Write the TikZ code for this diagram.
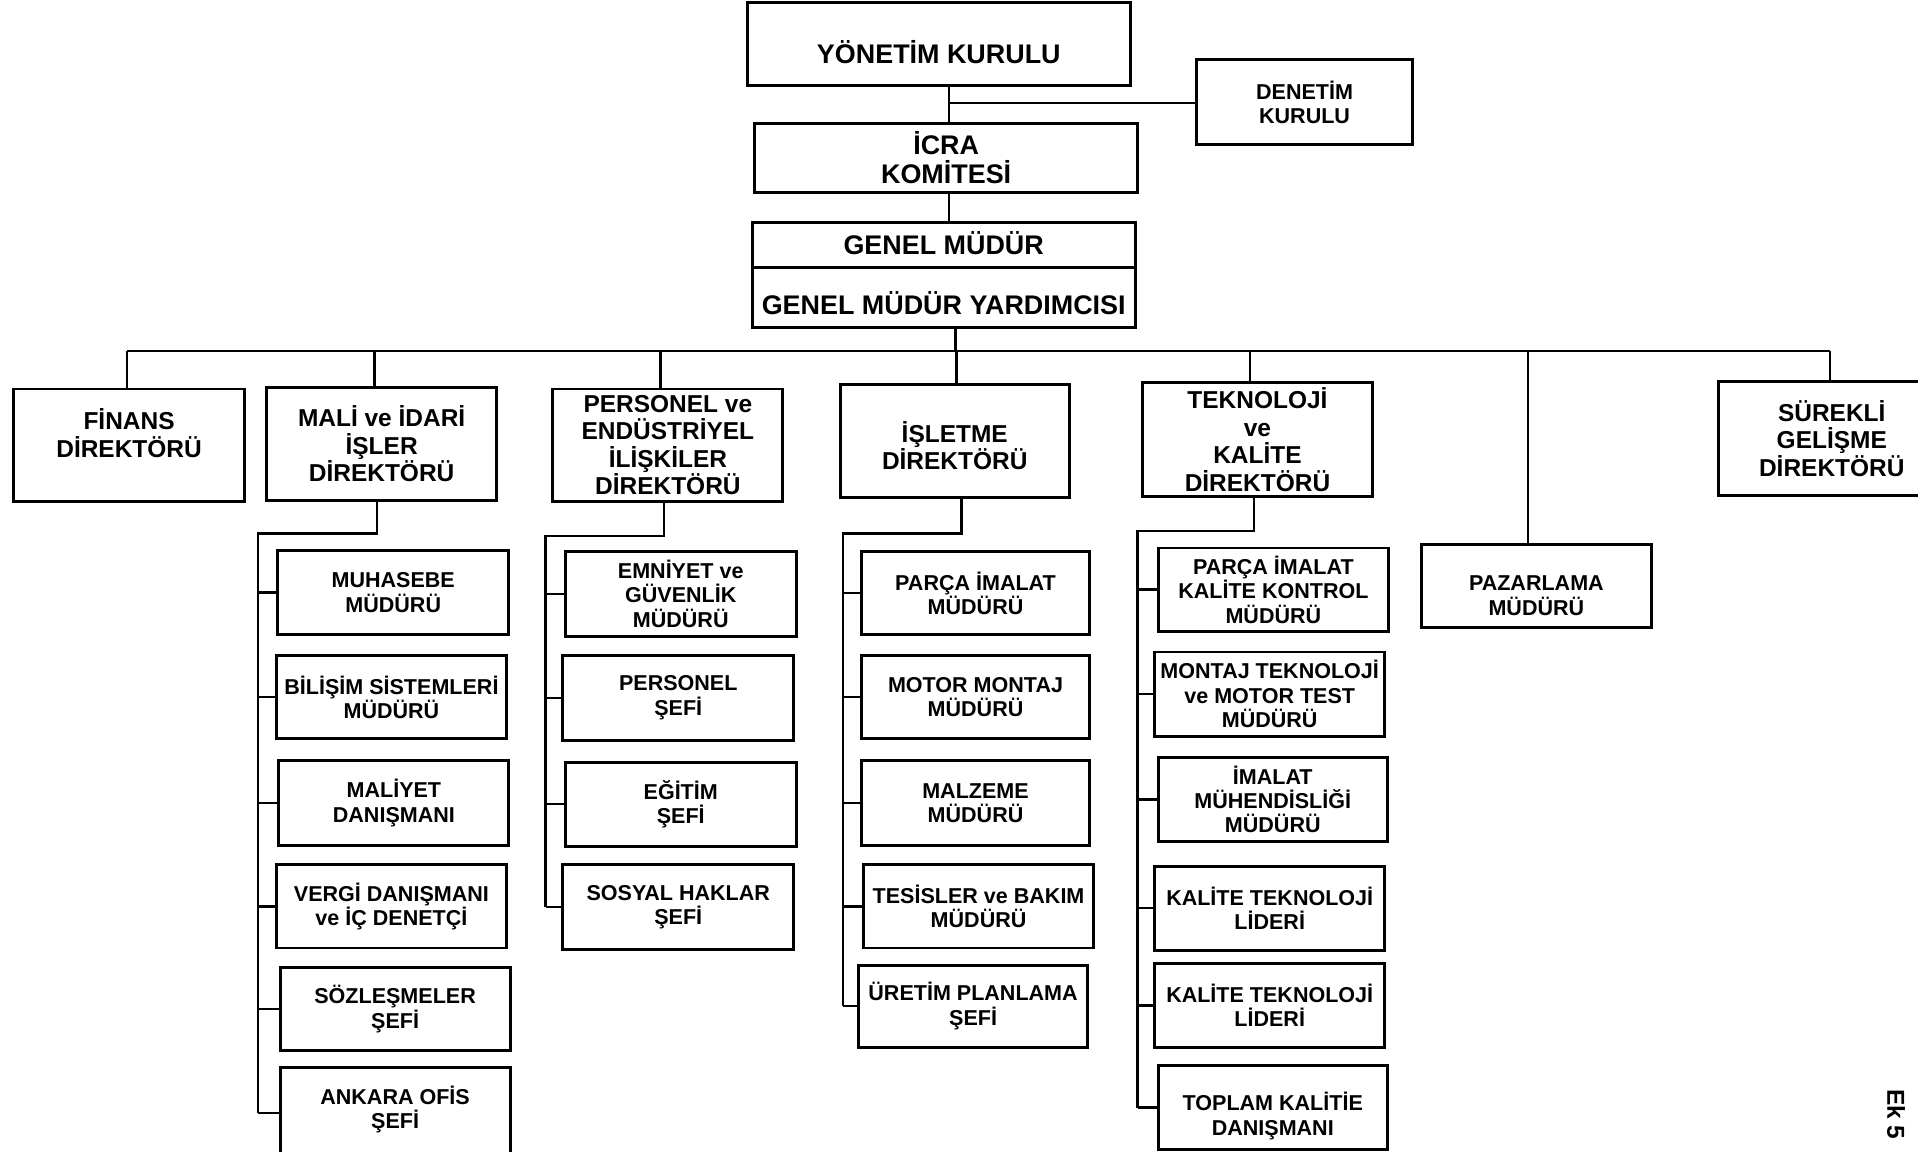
\documentclass[tikz,border=0pt]{standalone}
\usepackage{fontspec}
\setmainfont{Liberation Sans}
\usetikzlibrary{calc}

% type sizes for the three levels of the chart
\newcommand{\fTop}{\fontsize{11}{12}\selectfont\bfseries}
\newcommand{\fDir}{\fontsize{10}{11.25}\selectfont\bfseries}
\newcommand{\fSub}{\fontsize{8.8}{10}\selectfont\bfseries}

% \orgbox[text shift]{name}{x1}{y1}{x2}{y2}{text}
\newcommand{\orgbox}[7][0]{%
  \node[orgframe, minimum width={(#5-#3)*0.5pt}, minimum height={(#6-#4)*0.5pt}]
    (#2) at ({(#3+#5)/2},{(#4+#6)/2}) {};
  \node[orgtext] (#2-t) at ([yshift={-(#1)*0.5pt}]#2.center) {#7};
}

\tikzset{
  orgframe/.style={draw=black, line width=1.2pt, inner sep=0pt, outer sep=0pt, fill=white},
  orgtext/.style={align=center, inner sep=0pt},
  wire/.style={draw=black, line width=1pt},
}

\begin{document}
\begin{tikzpicture}[x=0.5pt,y=-0.5pt]
\fill[white] (0,0) rectangle (1568,941);
\useasboundingbox (0,0) rectangle (1568,941);

% ---- top management ----
\begin{scope}[orgtext/.append style={font=\fTop}]
\orgbox[7]{yk}{611}{2}{924}{70}{YÖNETİM KURULU}
\orgbox{icra}{617}{101}{930}{157}{İCRA\\KOMİTESİ}
\orgbox[-2]{gm}{615}{182}{928}{219}{GENEL MÜDÜR}
\orgbox[4]{gmy}{615}{219}{928}{268}{GENEL MÜDÜR YARDIMCISI}
\end{scope}

\begin{scope}[orgtext/.append style={font=\fSub}]
\orgbox{denetim}{978}{49}{1155}{118}{DENETİM\\KURULU}
\end{scope}

% ---- directors ----
\begin{scope}[orgtext/.append style={font=\fDir}]
\orgbox[-10]{finans}{11}{318}{200}{410}{FİNANS\\DİREKTÖRÜ}
\orgbox{mali}{218}{317}{406}{409}{MALİ ve İDARİ\\İŞLER\\DİREKTÖRÜ}
\orgbox{pers}{452}{318}{640}{410}{PERSONEL ve\\ENDÜSTRİYEL\\İLİŞKİLER\\DİREKTÖRÜ}
\orgbox[4]{islet}{687}{314}{874}{407}{İŞLETME\\DİREKTÖRÜ}
\orgbox{tek}{934}{313}{1122}{406}{TEKNOLOJİ\\ve\\KALİTE\\DİREKTÖRÜ}
\orgbox{surekli}{1405}{312}{1590}{405}{SÜREKLİ\\GELİŞME\\DİREKTÖRÜ}
\end{scope}

% ---- managers and chiefs ----
\begin{scope}[orgtext/.append style={font=\fSub}]
\orgbox[8]{pazar}{1162}{445}{1350}{513}{PAZARLAMA\\MÜDÜRÜ}

\orgbox{muh}{227}{450}{416}{519}{MUHASEBE\\MÜDÜRÜ}
\orgbox{bil}{226}{536}{414}{604}{BİLİŞİM SİSTEMLERİ\\MÜDÜRÜ}
\orgbox{maly}{228}{622}{416}{691}{MALİYET\\DANIŞMANI}
\orgbox{vergi}{226}{707}{414}{775}{VERGİ DANIŞMANI\\ve İÇ DENETÇİ}
\orgbox{soz}{229}{791}{417}{859}{SÖZLEŞMELER\\ŞEFİ}
\orgbox[-3]{ank}{229}{873}{417}{947}{ANKARA OFİS\\ŞEFİ}

\orgbox{emn}{462}{451}{651}{520}{EMNİYET ve\\GÜVENLİK\\MÜDÜRÜ}
\orgbox{persf}{460}{536}{649}{605}{PERSONEL\\ŞEFİ}
\orgbox{egt}{462}{623}{651}{692}{EĞİTİM\\ŞEFİ}
\orgbox{sos}{460}{707}{649}{776}{SOSYAL HAKLAR\\ŞEFİ}

\orgbox{parca}{704}{451}{891}{519}{PARÇA İMALAT\\MÜDÜRÜ}
\orgbox{motor}{704}{536}{891}{604}{MOTOR MONTAJ\\MÜDÜRÜ}
\orgbox{malz}{704}{622}{891}{691}{MALZEME\\MÜDÜRÜ}
\orgbox{tesis}{706}{707}{894}{775}{TESİSLER ve BAKIM\\MÜDÜRÜ}
\orgbox{uretim}{702}{789}{889}{856}{ÜRETİM PLANLAMA\\ŞEFİ}

\orgbox{pikk}{947}{448}{1135}{516}{PARÇA İMALAT\\KALİTE KONTROL\\MÜDÜRÜ}
\orgbox{montaj}{944}{533}{1132}{602}{MONTAJ TEKNOLOJİ\\ve MOTOR TEST\\MÜDÜRÜ}
\orgbox{imalat}{947}{619}{1134}{688}{İMALAT\\MÜHENDİSLİĞİ\\MÜDÜRÜ}
\orgbox{ktla}{944}{708}{1132}{777}{KALİTE TEKNOLOJİ\\LİDERİ}
\orgbox{ktlb}{944}{788}{1132}{856}{KALİTE TEKNOLOJİ\\LİDERİ}
\orgbox[7]{toplam}{947}{871}{1134}{940}{TOPLAM KALİTİE\\DANIŞMANI}
\end{scope}

% ---- upper links ----
\coordinate (ja) at (776,84);
\draw[wire] (ja |- yk.south) -- (ja |- icra.north);
\draw[wire] (ja) -- (ja -| denetim.west);
\draw[wire] (ja |- icra.south) -- (ja |- gm.north);
\coordinate (jb) at (781,287);
\draw[wire] (jb |- gmy.south) -- (jb);

% ---- main bus and drops to the directors ----
\coordinate (busL) at (104,287);
\coordinate (busR) at (1496,287);
\draw[wire] (busL) -- (busR);
\draw[wire] (busL) -- (busL |- finans.north);
\coordinate (dmali) at (306,287);   \draw[wire] (dmali) -- (dmali |- mali.north);
\coordinate (dpers) at (540,287);   \draw[wire] (dpers) -- (dpers |- pers.north);
\coordinate (dislet) at (782,287);  \draw[wire] (dislet) -- (dislet |- islet.north);
\coordinate (dtek) at (1022,287);   \draw[wire] (dtek) -- (dtek |- tek.north);
\coordinate (dpazar) at (1249,287); \draw[wire] (dpazar) -- (dpazar |- pazar.north);
\draw[wire] (busR) -- (busR |- surekli.north);

% ---- department spines ----
\coordinate (ma) at (308,436); \coordinate (mb) at (211,436);
\draw[wire] (ma |- mali.south) -- (ma) -- (mb) -- (mb |- ank.west);
\foreach \c in {muh,bil,maly,vergi,soz,ank} \draw[wire] (mb |- \c.west) -- (\c.west);

\coordinate (pa) at (543,438); \coordinate (pb) at (446,438);
\draw[wire] (pa |- pers.south) -- (pa) -- (pb) -- (pb |- sos.west);
\foreach \c in {emn,persf,egt,sos} \draw[wire] (pb |- \c.west) -- (\c.west);

\coordinate (ia) at (786,436); \coordinate (ib) at (689,436);
\draw[wire] (ia |- islet.south) -- (ia) -- (ib) -- (ib |- uretim.west);
\foreach \c in {parca,motor,malz,tesis,uretim} \draw[wire] (ib |- \c.west) -- (\c.west);

\coordinate (ta) at (1025,434); \coordinate (tb) at (930,434);
\draw[wire] (ta |- tek.south) -- (ta) -- (tb) -- (tb |- toplam.west);
\foreach \c in {pikk,montaj,imalat,ktla,ktlb,toplam} \draw[wire] (tb |- \c.west) -- (\c.west);

% ---- annex mark ----
\node[rotate=-90, font=\fontsize{10}{12}\selectfont\bfseries] (ek) at (1550,911) {Ek 5};
\end{tikzpicture}
\end{document}
